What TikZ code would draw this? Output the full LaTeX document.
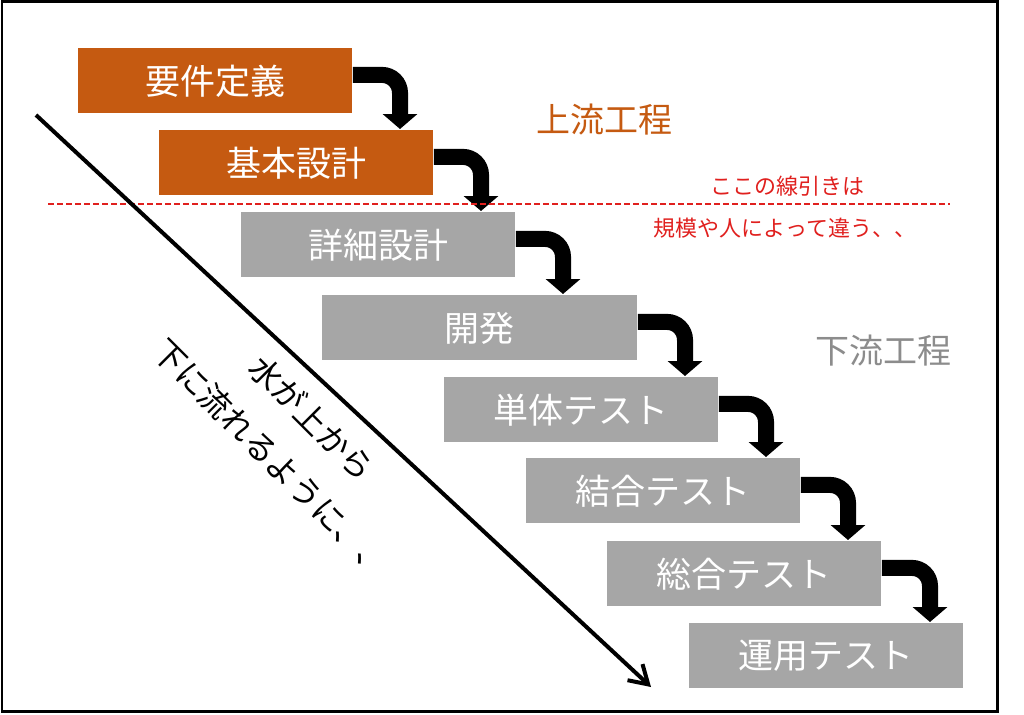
\documentclass[tikz,border=0pt]{standalone}
\usepackage{fontspec}
\setmainfont{Noto Sans CJK JP}
\usetikzlibrary{arrows.meta,calc}
\definecolor{orng}{HTML}{C55A11}
\definecolor{gbox}{HTML}{A6A6A6}
\definecolor{gtxt}{HTML}{8C8C8C}
\definecolor{rtxt}{HTML}{E0201E}
\begin{document}
\begin{tikzpicture}[x=0.5pt,y=-0.5pt,
  stepbox/.style={anchor=north west, inner sep=0pt, minimum width=137pt, minimum height=32.5pt,
    text=white, font=\fontsize{17.5pt}{20pt}\selectfont},
  upbox/.style={stepbox, fill=orng},
  lowbox/.style={stepbox, fill=gbox},
  elbow/.style={line width=8pt, rounded corners=9pt, -{Triangle[length=7.5pt,width=17pt]}},
  phase/.style={font=\fontsize{17pt}{20pt}\selectfont},
  note/.style={text=rtxt, font=\fontsize{11pt}{13pt}\selectfont},
]
\useasboundingbox (0,0) rectangle (1024,714);
\draw[line width=1.25pt] (2,1.5) rectangle (997.5,711.5);

% boxes
\node[upbox]  (b1) at (78,48)   {要件定義};
\node[upbox]  (b2) at (159,130) {基本設計};
\node[lowbox] (b3) at (241,212) {詳細設計};
\node[lowbox, minimum width=157.5pt] (b4) at (322,295) {開発};
\node[lowbox] (b5) at (444,377) {単体テスト};
\node[lowbox] (b6) at (526,458) {結合テスト};
\node[lowbox] (b7) at (607,541) {総合テスト};
\node[lowbox] (b8) at (689,623) {運用テスト};

% elbow arrows
\draw[elbow] ($(b1.east)+(0,-6)$) -| ($(b2.north west)+(241,-1)$);
\draw[elbow] ($(b2.east)+(0,-6)$) -| ($(b3.north west)+(240,-1)$);
\draw[elbow] ($(b3.east)+(0,-6)$) -| ($(b4.north west)+(241,-1)$);
\draw[elbow] ($(b4.east)+(0,-6)$) -| ($(b5.north west)+(241,-1)$);
\draw[elbow] ($(b5.east)+(0,-6)$) -| ($(b6.north west)+(240,-1)$);
\draw[elbow] ($(b6.east)+(0,-6)$) -| ($(b7.north west)+(241,-1)$);
\draw[elbow] ($(b7.east)+(0,-6)$) -| ($(b8.north west)+(241,-1)$);

% phase labels
\node[phase, text=orng] (up) at (604,120) {上流工程};
\node[phase, text=gtxt] (down) at (883,351) {下流工程};

% dividing line and note
\coordinate (dl) at (48,204);
\coordinate (dr) at (950,204);
\draw[rtxt, line width=1pt, dash pattern=on 3pt off 1.5pt] (dl) -- (dr);
\node[note] (n1) at (787,186) {ここの線引きは};
\node[note] (n2) at (785,228) {規模や人によって違う、、};

% diagonal flow arrow
\coordinate (ds) at (36,115);
\coordinate (de) at (651,687);
\draw[line width=2pt, -{Straight Barb[length=9pt,width=11pt]}] (ds) -- (de);
\node[rotate=-45, align=center, font=\fontsize{16pt}{28pt}\selectfont] (flow) at (292,438)
  {水が上から\\下に流れるように、、};
\end{tikzpicture}
\end{document}
